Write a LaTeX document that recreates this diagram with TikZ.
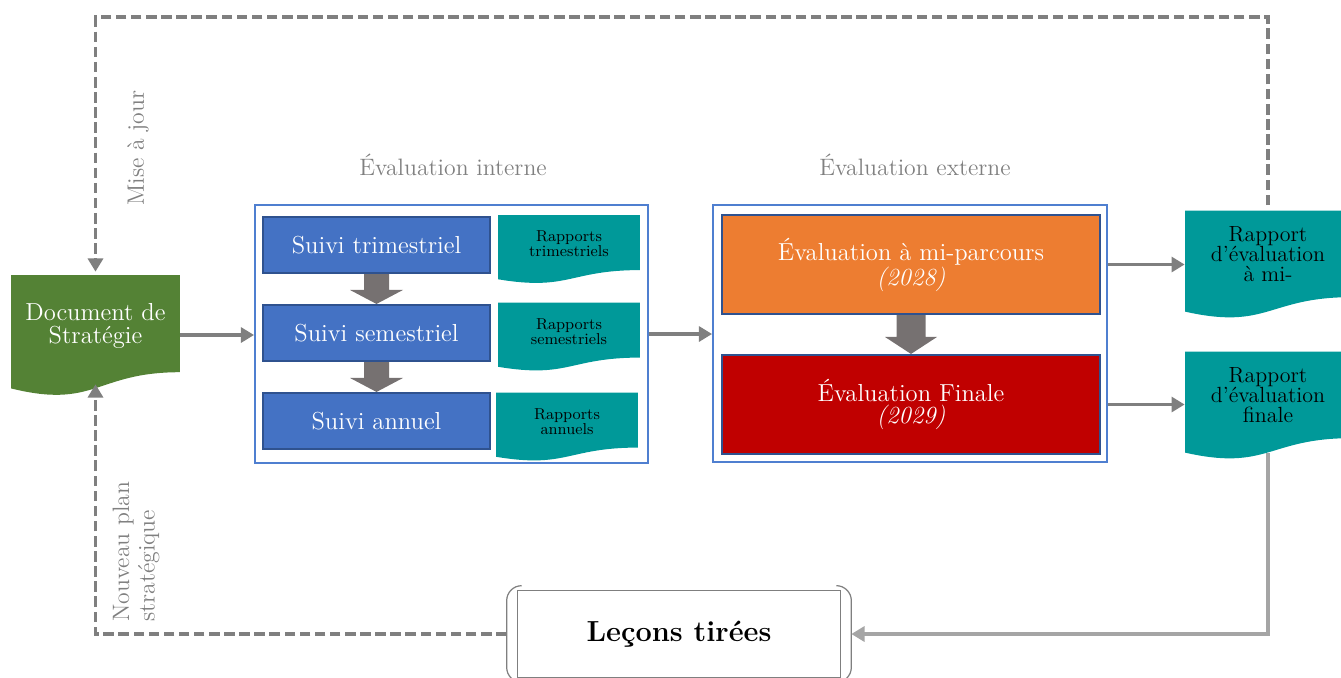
\documentclass[tikz,border=0pt]{standalone}
\usetikzlibrary{positioning,calc,arrows.meta,backgrounds}
\definecolor{docgreen}{HTML}{548235}
\definecolor{rapteal}{HTML}{009999}
\definecolor{suiviblue}{HTML}{4472C4}
\definecolor{bordblue}{HTML}{2F528F}
\definecolor{frameblue}{HTML}{4F7FD0}
\definecolor{evalorange}{HTML}{ED7D31}
\definecolor{evalred}{HTML}{C00000}
\definecolor{flowgray}{HTML}{7F7F7F}
\definecolor{lessgray}{HTML}{A5A5A5}
\definecolor{arrowgray}{HTML}{767171}
\definecolor{labelgray}{HTML}{808080}
\tikzset{
  docnode/.style={inner sep=0pt, path picture={
    \fill[#1] let \p1=(path picture bounding box.south west),
      \p2=(path picture bounding box.north east),
      \n1={\x2-\x1}, \n2={\y2-\y1} in
      (\x1,\y2) -- (\x2,\y2) -- (\x2,{\y1+0.19*\n2})
      .. controls ({\x1+0.5*\n1},{\y1+0.19*\n2}) and ({\x1+0.5*\n1},{\y1-0.12*\n2})
      .. (\x1,{\y1+0.055*\n2}) -- cycle;}},
  doctext/.style={align=center, font=\fontsize{14}{13}\selectfont},
  smalltext/.style={align=center, font=\fontsize{9}{8.5}\selectfont},
  bigtext/.style={align=center, font=\fontsize{12.5}{11.5}\selectfont},
  smallrap/.style={docnode=rapteal, minimum width=2.84cm, minimum height=1.36cm},
  bigrap/.style={docnode=rapteal, minimum width=3.32cm, minimum height=2.14cm},
  frame/.style={draw=frameblue, line width=1.1pt, inner sep=0pt},
  suivi/.style={draw=bordblue, line width=1.2pt, fill=suiviblue, text=white,
    minimum width=4.54cm, minimum height=1.12cm, font=\fontsize{14}{12}\selectfont},
  evalbox/.style={draw=bordblue, line width=1.2pt, fill=#1, text=white, align=center,
    minimum width=7.56cm, minimum height=1.98cm, font=\fontsize{14}{12.5}\selectfont},
  title/.style={text=labelgray, font=\fontsize{13.5}{15}\selectfont},
  sidetext/.style={text=labelgray, rotate=90, align=left, font=\fontsize{13.5}{14.5}\selectfont},
  lessons/.style={minimum width=6.88cm, minimum height=1.92cm,
    font=\fontsize{16.5}{18}\selectfont\bfseries},
  lessframe/.style={draw=flowgray, line width=0.7pt},
  flow/.style={draw=flowgray, line width=2.2pt},
  dashflow/.style={flow, dash pattern=on 6pt off 2.6pt},
  lessflow/.style={draw=lessgray, line width=2.2pt}
}
\newcommand{\blockarrow}[5]{
  \fill[arrowgray] ($(#1.south)+(-#3,0)$) -- ($(#1.south)+(#3,0)$)
    -- ($(#2.north)+(#3,-#5)$) -- ($(#2.north)+(#4,-#5)$) -- (#2.north)
    -- ($(#2.north)+(-#4,-#5)$) -- ($(#2.north)+(-#3,-#5)$) -- cycle;
}

\begin{document}
\begin{tikzpicture}[x=0.02cm,y=-0.02cm,>={Triangle[length=7.5pt,width=8.5pt]}]
  \useasboundingbox (0,0) rectangle (1341,677);

  \node[title] (tInt) at (453,165) {Évaluation interne};
  \node[title] (tExt) at (915,165) {Évaluation externe};

  % strategy document
  \node[docnode=docgreen, minimum width=3.38cm, minimum height=2.4cm,
    label={[doctext, text=white, yshift=0.18cm]center:{Document de\\Stratégie}}] (doc) at (95.5,335) {};
  \coordinate (docIn) at ($(doc.south)+(0,-11)$);

  % internal evaluation
  \node[frame, minimum width=7.86cm, minimum height=5.16cm] (interne) at (451.5,334) {};
  \node[suivi] (trim) at (376.5,245) {Suivi trimestriel};
  \node[suivi] (sem) at (376.5,333) {Suivi semestriel};
  \node[suivi] (ann) at (376.5,421) {Suivi annuel};
  \blockarrow{trim}{sem}{12.5}{26.5}{14}
  \blockarrow{sem}{ann}{12.5}{26.5}{14}

  \node[smallrap, label={[smalltext, yshift=0.1cm]center:{Rapports\\trimestriels}}] (rapT) at (569,249) {};
  \node[smallrap, label={[smalltext, yshift=0.1cm]center:{Rapports\\semestriels}}] (rapS) at (569,336.5) {};
  \node[smallrap, label={[smalltext, yshift=0.1cm]center:{Rapports\\annuels}}] (rapA) at (567,426.5) {};

  % external evaluation
  \node[frame, minimum width=7.88cm, minimum height=5.14cm] (externe) at (910,333.5) {};
  \node[evalbox=evalorange] (mi) at (911,264.5) {Évaluation à mi-parcours\\\textit{(2028)}};
  \node[evalbox=evalred] (fin) at (911,404.5) {Évaluation Finale\\\textit{(2029)}};
  \blockarrow{mi}{fin}{14.5}{26}{17}

  \node[bigrap, label={[bigtext, yshift=0.2cm]center:{Rapport\\d’évaluation\\à mi-}}] (rapMi) at (1268,264) {};
  \node[bigrap, label={[bigtext, yshift=0.2cm]center:{Rapport\\d’évaluation\\finale}}] (rapFin) at (1268,405) {};

  % lessons learned
  \node[lessons] (lecons) at (679,634) {Leçons tirées};
  \draw[lessframe] ($(lecons.north west)+(11,5)$) rectangle ($(lecons.south east)+(-11,-5)$);
  \draw[lessframe, rounded corners=0.3cm] ($(lecons.north west)+(14,0)$) -- (lecons.north west)
    -- (lecons.south west) -- ($(lecons.south west)+(14,0)$);
  \draw[lessframe, rounded corners=0.3cm] ($(lecons.north east)+(-14,0)$) -- (lecons.north east)
    -- (lecons.south east) -- ($(lecons.south east)+(-14,0)$);

  \node[sidetext] (maj) at (138,148) {Mise à jour};
  \node[sidetext, anchor=west] (nouv) at (136,628) {Nouveau plan\\stratégique};

  % connectors
  \draw[flow,->] (doc.east) -- (doc.east -| interne.west);
  \draw[flow,->] (interne.east) -- (interne.east -| externe.west);
  \draw[flow,->] (externe.east |- mi.east) -- (rapMi.west |- mi.east);
  \draw[flow,->] (externe.east |- fin.east) -- (rapFin.west |- fin.east);
  \draw[dashflow,->,shorten <=0.1cm,shorten >=0.06cm] (rapMi.north) -- ++(0,-193) -| (doc.north);
  \draw[dashflow,->] (lecons.west) -| (docIn);
  \draw[lessflow,->] ($(rapFin.south)+(0,-6)$) |- (lecons.east);
\end{tikzpicture}
\end{document}
